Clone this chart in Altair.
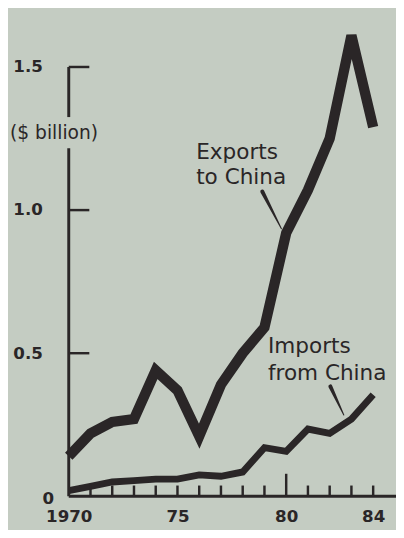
import altair as alt
import pandas as pd

# ---- data ----
years = list(range(1970, 1985))
exports = [0.14, 0.22, 0.26, 0.27, 0.44, 0.37, 0.21, 0.39, 0.50, 0.59, 0.92, 1.07, 1.25, 1.61, 1.29]
imports = [0.02, 0.035, 0.05, 0.055, 0.06, 0.06, 0.075, 0.07, 0.085, 0.17, 0.157, 0.235, 0.22, 0.27, 0.355]

y_tick_values = [0.5, 1.0, 1.5]
x_label_values = [1970, 1975, 1980, 1984]
x_minor_ticks = [1971, 1972, 1973, 1974, 1975, 1976, 1977, 1978, 1979, 1981, 1982, 1983, 1984]
x_major_ticks = [1980]
y_axis_seg_from = [0.0, 1.325]
y_axis_seg_to = [1.216, 1.5]

# pointer wedges (year, value, width)
exp_ptr_year = [1978.90, 1979.78]
exp_ptr_val = [1.065, 0.935]
imp_ptr_year = [1982.03, 1982.65]
imp_ptr_val = [0.384, 0.284]
exp_ptr_width = [15, 0]
imp_ptr_width = [15, 0]

labels_text = ["Exports", "to China", "Imports", "from China"]
labels_year = [1975.86, 1975.86, 1979.16, 1979.16]
labels_val = [1.202, 1.116, 0.524, 0.432]

BG = "#c4ccc2"
INK = "#2a2627"
W, H = 334, 482
XDOM = [1970, 1985.05]
YDOM = [0, 1.65]

xs = alt.Scale(domain=XDOM, nice=False, zero=False)
ys = alt.Scale(domain=YDOM, nice=False, zero=False)

series = pd.DataFrame({"year": years * 2,
                       "value": exports + imports,
                       "series": ["Exports"] * len(years) + ["Imports"] * len(years)})

x_axis = alt.Axis(values=x_label_values, ticks=False, tickSize=0, domain=False, grid=False,
                  labelExpr="datum.value == 1970 ? '1970' : '' + (datum.value - 1900)",
                  labelFont="DejaVu Sans", labelFontWeight="bold", labelFontSize=17,
                  labelColor=INK, labelPadding=13, labelFlush=False, labelOverlap=False, title=None)
y_axis = alt.Axis(values=y_tick_values, ticks=False, tickSize=0, domain=False, grid=False,
                  format=".1f", labelFont="DejaVu Sans", labelFontWeight="bold", labelFontSize=17,
                  labelColor=INK, labelPadding=27, labelFlush=False, title=None)

exp_line = alt.Chart(series).transform_filter("datum.series == 'Exports'").mark_line(
    color=INK, strokeWidth=10.5, strokeJoin="miter", strokeCap="butt"
).encode(x=alt.X("year:Q", scale=xs, axis=x_axis), y=alt.Y("value:Q", scale=ys, axis=y_axis))

imp_line = alt.Chart(series).transform_filter("datum.series == 'Imports'").mark_line(
    color=INK, strokeWidth=7, strokeJoin="miter", strokeCap="butt"
).encode(x=alt.X("year:Q", scale=xs), y=alt.Y("value:Q", scale=ys))

# baseline
base_df = pd.DataFrame({"a": [XDOM[0]], "b": [XDOM[1]], "v": [0.0]})
baseline = alt.Chart(base_df).mark_rule(color=INK, strokeWidth=3).encode(
    x=alt.X("a:Q", scale=xs), x2="b:Q", y=alt.Y("v:Q", scale=ys))

# y axis line with a gap for the unit label
yseg_df = pd.DataFrame({"x": [1970, 1970], "y1": y_axis_seg_from, "y2": y_axis_seg_to})
yaxis_line = alt.Chart(yseg_df).mark_rule(color=INK, strokeWidth=3).encode(
    x=alt.X("x:Q", scale=xs), y=alt.Y("y1:Q", scale=ys), y2="y2:Q")

# y ticks pointing inward
ytick_df = pd.DataFrame({"v": y_tick_values, "x": [1970] * 3})
yticks = alt.Chart(ytick_df).mark_rule(color=INK, strokeWidth=2.5).encode(
    x=alt.X("x:Q", scale=xs), x2=alt.value(21), y=alt.Y("v:Q", scale=ys))

# x ticks pointing upward
xt_df = pd.DataFrame({"year": x_minor_ticks})
xticks = alt.Chart(xt_df).mark_rule(color=INK, strokeWidth=2.5).encode(
    x=alt.X("year:Q", scale=xs), y=alt.value(H), y2=alt.value(H - 11))
xT_df = pd.DataFrame({"year": x_major_ticks})
xticks_major = alt.Chart(xT_df).mark_rule(color=INK, strokeWidth=2.5).encode(
    x=alt.X("year:Q", scale=xs), y=alt.value(H), y2=alt.value(H - 23))

# "0" label
zero_df = pd.DataFrame({"x": [1970], "v": [0.0], "t": ["0"]})
zero_lbl = alt.Chart(zero_df).mark_text(
    font="DejaVu Sans", fontWeight="bold", fontSize=17, color=INK, align="right",
    baseline="middle", dx=-15, dy=3
).encode(x=alt.X("x:Q", scale=xs), y=alt.Y("v:Q", scale=ys), text="t:N")

# unit label
unit_df = pd.DataFrame({"x": [1970], "v": [1.27], "t": ["($ billion)"]})
unit_lbl = alt.Chart(unit_df).mark_text(
    font="DejaVu Sans", fontSize=19, color=INK, align="center", baseline="middle", dx=-15
).encode(x=alt.X("x:Q", scale=xs), y=alt.Y("v:Q", scale=ys), text="t:N")

# series labels
lab_df = pd.DataFrame({"t": labels_text, "x": labels_year, "v": labels_val})
series_lbl = alt.Chart(lab_df).mark_text(
    font="DejaVu Sans", fontSize=22, color=INK, align="left", baseline="middle"
).encode(x=alt.X("x:Q", scale=xs), y=alt.Y("v:Q", scale=ys), text="t:N")

# pointer wedges
ptr_df = pd.DataFrame({
    "year": exp_ptr_year + imp_ptr_year,
    "value": exp_ptr_val + imp_ptr_val,
    "w": exp_ptr_width + imp_ptr_width,
    "g": ["e", "e", "i", "i"],
    "o": [0, 1, 0, 1],
})
pointers = alt.Chart(ptr_df).mark_trail(color=INK).encode(
    x=alt.X("year:Q", scale=xs), y=alt.Y("value:Q", scale=ys),
    size=alt.Size("w:Q", scale=alt.Scale(type="identity"), legend=None),
    detail="g:N", order="o:Q")

chart = alt.layer(
    exp_line, imp_line, baseline, yaxis_line, yticks, xticks, xticks_major,
    zero_lbl, unit_lbl, series_lbl, pointers
).properties(
    width=W, height=H,
    autosize=alt.AutoSizeParams(type="none"),
    padding={"left": 62, "top": 11, "right": 0, "bottom": 29},
    background=BG,
).configure_view(stroke=None)

chart.save("out.html", embed_options={"renderer": "svg", "actions": False})
